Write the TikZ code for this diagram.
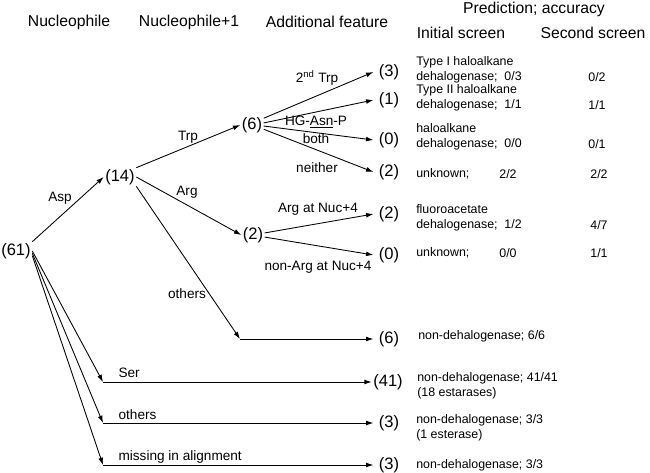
\documentclass[tikz,border=0pt]{standalone}
\usepackage{fontspec}
\setmainfont{Liberation Sans}
\usetikzlibrary{arrows.meta}

\tikzset{
  arr/.style={-{Latex[length=5.5pt,width=3.6pt]}, line width=0.65pt},
  hdr/.style={font=\fontsize{11.8}{14}\selectfont, inner sep=1pt},
  cnt/.style={font=\fontsize{12.4}{14}\selectfont, inner sep=1pt},
  leaf/.style={cnt, minimum width=23pt},
  lbl/.style={font=\fontsize{10.2}{12}\selectfont, inner sep=1pt},
  pred/.style={font=\fontsize{9.3}{11.5}\selectfont, inner sep=0pt, anchor=west, align=left},
}

\begin{document}
\begin{tikzpicture}[x=0.75pt,y=0.75pt,yscale=-1,xscale=1]
\useasboundingbox (0,0) rectangle (650,472);
% Column headings
\node[hdr] (hNuc) at (69,22) {Nucleophile};
\node[hdr] (hNucOne) at (189,22) {Nucleophile+1};
\node[hdr] (hFeat) at (327,22) {Additional feature};
\node[hdr] (hPred) at (534,9) {Prediction; accuracy};
\node[hdr] (hInit) at (461,33) {Initial screen};
\node[hdr] (hSec) at (593,33) {Second screen};
% Count nodes
\node[cnt] (n61) at (16,251) {(61)};
\node[cnt] (n14) at (120,177) {(14)};
\node[cnt] (n6) at (252,125) {(6)};
\node[cnt] (n2) at (253,235) {(2)};
% Leaf nodes
\node[leaf] (fTrp) at (389,72) {(3)};
\node[leaf] (fAsn) at (389,100) {(1)};
\node[leaf] (fBoth) at (389,140) {(0)};
\node[leaf] (fNei) at (389,172) {(2)};
\node[leaf] (fArg) at (389,214) {(2)};
\node[leaf] (fNonArg) at (389,255) {(0)};
\node[leaf] (fOth) at (389,339) {(6)};
\node[leaf] (fSer) at (388,382) {(41)};
\node[leaf] (fOthB) at (389,423) {(3)};
\node[leaf] (fMis) at (389,465) {(3)};
% Corners
\coordinate (cOth) at (240,339);
\coordinate (cSer) at (103,382);
\coordinate (cOthB) at (103,423);
\coordinate (cMis) at (103,465);
% Connectors
\draw[arr] (n61.north east) -- (n14.west);
\draw[arr] (n61.east) -- (cSer);
\draw[arr] (n61.-8) -- (cOthB);
\draw[arr] (n61.-16) -- (cMis);
\draw[arr] (n14.north east) -- (n6.west);
\draw[arr] (n14.east) -- (n2.west);
\draw[arr] (n14.south east) -- (cOth);
\draw[arr] (cOth) -- (fOth.west);
\draw[arr] (cSer) -- (fSer.west);
\draw[arr] (cOthB) -- (fOthB.west);
\draw[arr] (cMis) -- (fMis.west);
\draw[arr] (n6.30) -- (fTrp.west);
\draw[arr] (n6.10) -- (fAsn.west);
\draw[arr] (n6.-5) -- (fBoth.west);
\draw[arr] (n6.-20) -- (fNei.west);
\draw[arr] (n2.10) -- (fArg.west);
\draw[arr] (n2.-10) -- (fNonArg.west);
% Edge labels
\node[lbl] (tAsp) at (60,198) {Asp};
\node[lbl] (tTrp) at (188,137) {Trp};
\node[lbl] (tArg) at (187,192) {Arg};
\node[lbl] (tOth) at (187,294) {others};
\node[lbl] (tSecTrp) at (317,78) {2\textsuperscript{nd} Trp};
\node[lbl] (tAsn) at (316,122) {HG-\underline{Asn}-P};
\node[lbl] (tBoth) at (316,139) {both};
\node[lbl] (tNei) at (317,168) {neither};
\node[lbl] (tArgNuc) at (318,209) {Arg at Nuc+4};
\node[lbl] (tNonArg) at (318,267) {non-Arg at Nuc+4};
\node[lbl, anchor=west] (tSer) at (117,373) {Ser};
\node[lbl, anchor=west] (tOthB) at (117,415) {others};
\node[lbl, anchor=west] (tMis) at (117,457) {missing in alignment};
% Predictions
\node[pred] (pTrp) at (416,70) {Type I haloalkane\\dehalogenase;~~0/3};
\node[pred] (pAsn) at (416,98) {Type II haloalkane\\dehalogenase;~~1/1};
\node[pred] (pBoth) at (416,137) {haloalkane\\dehalogenase;~~0/0};
\node[pred] (pNei) at (416,174) {unknown;};
\node[pred] (pArg) at (416,218) {fluoroacetate\\dehalogenase;~~1/2};
\node[pred] (pNonArg) at (416,253) {unknown;};
\node[pred] (pOth) at (418,336) {non-dehalogenase; 6/6};
\node[pred] (pSer) at (417,386) {non-dehalogenase; 41/41\\(18 estarases)};
\node[pred] (pOthB) at (416,428) {non-dehalogenase; 3/3\\(1 esterase)};
\node[pred] (pMis) at (416,465) {non-dehalogenase; 3/3};
\node[pred, anchor=center] (aNei) at (508,174) {2/2};
\node[pred, anchor=center] (aNonArg) at (508,253) {0/0};
% Second screen
\node[pred, anchor=center] (sTrp) at (597,77) {0/2};
\node[pred, anchor=center] (sAsn) at (597,105) {1/1};
\node[pred, anchor=center] (sBoth) at (597,144) {0/1};
\node[pred, anchor=center] (sNei) at (599,174) {2/2};
\node[pred, anchor=center] (sArg) at (599,225) {4/7};
\node[pred, anchor=center] (sNonArg) at (599,253) {1/1};
\end{tikzpicture}
\end{document}
